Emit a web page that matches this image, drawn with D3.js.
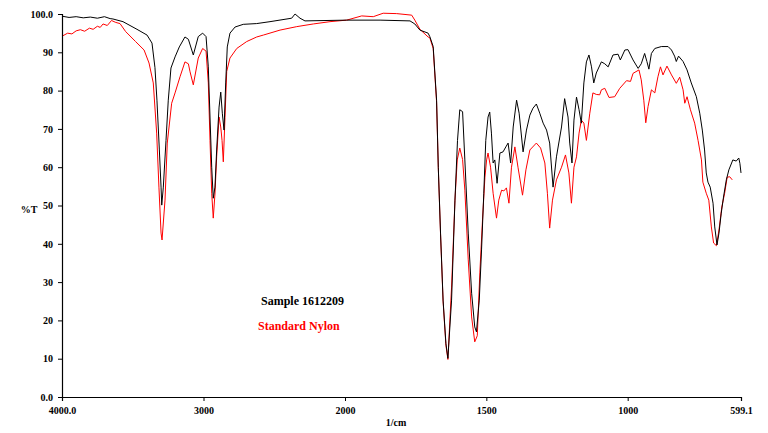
<!DOCTYPE html>
<html><head><meta charset="utf-8">
<script src="https://cdn.jsdelivr.net/npm/d3@7/dist/d3.min.js"></script>
<style>
html,body{margin:0;padding:0;background:#fff;}
</style></head>
<body>
<svg id="c" width="768" height="433"></svg>
<script>
// Wavenumber (1/cm) and %T for each spectrum
const sampleWn = [3995,3950,3900,3850,3800,3750,3700,3660,3640,3569,3470,3399,3364,3343,3329,3312,3300,3295,3284,3265,3249,3230,3201,3171,3131,3107,3072,3037,3006,2982,2966,2954,2942,2931,2919,2907,2890,2878,2867,2855,2843,2832,2813,2777,2719,2624,2530,2377,2353,2318,2283,1994,1876,1770,1753,1735,1706,1700,1688,1676,1670,1662,1653,1643,1636,1623,1611,1602,1594,1584,1576,1564,1552,1541,1535,1525,1517,1509,1502,1494,1488,1482,1476,1470,1462,1452,1441,1431,1423,1414,1405,1393,1384,1370,1358,1346,1335,1323,1311,1299,1287,1276,1264,1252,1234,1223,1211,1205,1197,1190,1181,1172,1164,1155,1146,1137,1128,1120,1111,1093,1081,1069,1052,1034,1026,1010,999,981,963,952,940,932,925,916,904,881,857,845,834,828,820,804,790,775,757,745,736,728,722,716,708,698,692,684,677,669,661,651,642,628,616,607,603,599.1];
const sampleT = [99.4,99.1,99.3,99.0,99.2,98.9,99.3,98.8,98.7,98.0,96.0,94.5,92.4,86.0,77.5,64.5,54.8,50.1,54.8,67.0,77.5,85.9,88.8,91.4,94.0,93.4,89.3,94.1,95.0,94.1,86.2,73.1,60.0,51.9,54.8,64.5,75.7,79.6,74.1,69.7,82.0,91.4,95.0,96.6,97.3,97.5,98.0,98.9,100.0,98.9,98.2,98.4,98.4,98.2,97.4,95.8,95.0,94.1,91.5,77.5,60.0,42.8,25.3,14.0,10.1,25.3,51.4,67.0,75.0,74.5,61.9,42.8,27.1,18.3,17.0,25.3,38.4,53.2,67.0,73.1,74.4,68.9,61.1,61.9,55.8,63.7,64.0,65.3,66.3,61.1,70.5,77.5,74.1,64.0,69.7,73.6,75.4,76.5,74.1,71.5,69.7,66.3,54.8,62.7,70.5,77.9,73.1,66.3,61.1,72.3,78.3,75.0,71.5,82.0,87.5,89.3,86.2,82.0,84.6,87.5,87.0,86.2,89.3,89.5,88.0,90.6,90.7,88.0,85.8,87.0,89.7,87.6,85.6,89.7,91.0,91.5,91.5,90.6,89.0,87.6,89.0,87.6,85.4,82.0,78.4,74.1,69.7,64.5,58.5,56.1,54.8,50.6,44.4,39.7,42.8,48.0,52.2,56.7,59.3,61.9,61.6,62.4,61.0,58.5];

const standardWn = [3995,3960,3930,3900,3870,3840,3806,3780,3750,3730,3710,3680,3650,3620,3590,3550,3480,3420,3385,3355,3331,3315,3300,3293,3272,3256,3225,3201,3166,3131,3107,3095,3072,3037,3006,2982,2966,2954,2942,2931,2919,2907,2890,2878,2869,2860,2848,2836,2813,2765,2695,2624,2577,2459,2341,2224,2106,1994,1941,1900,1865,1817,1764,1753,1735,1706,1700,1688,1676,1670,1662,1653,1643,1636,1623,1611,1603,1594,1584,1576,1564,1552,1541,1532,1523,1513,1505,1499,1494,1485,1476,1464,1456,1446,1438,1429,1420,1411,1399,1388,1372,1360,1346,1323,1308,1293,1284,1276,1266,1252,1234,1220,1208,1199,1190,1181,1172,1164,1155,1146,1134,1123,1111,1099,1093,1081,1066,1046,1028,1004,990,981,960,952,943,936,928,916,904,893,884,875,861,845,828,816,804,798,790,778,763,751,739,734,722,713,704,696,686,677,667,657,648,639,630];
const standardT = [94.3,95.0,94.8,95.6,95.9,95.5,96.3,96.0,96.8,96.5,97.4,97.0,98.3,97.8,97.5,95.4,92.8,90.6,87.2,82.0,68.9,54.8,42.8,41.0,51.4,66.3,76.7,79.4,83.6,87.5,87.0,84.9,81.5,88.5,91.0,90.3,82.0,67.0,53.2,46.7,53.0,62.7,73.1,70.5,67.0,61.4,73.0,85.0,88.5,91.0,92.8,94.0,94.5,95.8,96.7,97.4,98.0,98.4,99.5,99.3,100.2,100.1,99.7,98.4,96.0,94.0,93.8,91.0,77.0,60.0,42.5,25.0,13.5,9.8,28.7,51.4,61.9,65.0,62.0,54.0,35.8,20.9,14.4,16.0,32.4,47.0,57.4,61.9,63.7,60.0,53.2,46.7,51.4,54.0,53.8,54.6,50.6,60.0,65.3,60.0,52.7,59.3,64.5,66.3,65.0,61.1,53.2,44.1,51.4,56.7,60.0,63.2,58.5,50.6,60.0,62.7,68.9,72.3,71.5,67.0,74.1,79.4,79.0,78.9,80.2,80.6,78.2,78.4,80.6,82.6,82.4,84.5,85.4,82.8,77.5,71.6,75.8,80.2,79.4,83.6,86.2,84.1,86.4,84.1,81.9,83.5,80.2,76.7,78.4,75.0,71.5,67.0,61.9,56.1,53.2,51.4,44.4,40.2,39.5,43.6,49.6,53.2,57.4,57.5,56.7];

const yTicks = [0,10,20,30,40,50,60,70,80,90,100];
const yTickLabels = ["0.0","10","20","30","40","50","60","70","80","90","100.0"];
const xTicks = [4000,3000,2000,1500,1000,599.1];
const xTickLabels = ["4000.0","3000","2000","1500","1000","599.1"];
const seriesNames = ["Sample 1612209","Standard Nylon"];
const seriesColors = ["#000000","#ff0000"];

const FONT = "'Liberation Serif','Times New Roman',serif";
const svg = d3.select("#c");
const x = d3.scaleLinear().domain([4000,2000,599.1]).range([62,345,741]);
const y = d3.scaleLinear().domain([0,100]).range([397,14]);

const line = d3.line().x(d=>x(d[0])).y(d=>y(d[1]));
const sData = sampleWn.map((w,i)=>[w,sampleT[i]]);
const rData = standardWn.map((w,i)=>[w,standardT[i]]);

svg.append("path").datum(rData).attr("d",line).attr("fill","none")
  .attr("stroke",seriesColors[1]).attr("stroke-width",1);
svg.append("path").datum(sData).attr("d",line).attr("fill","none")
  .attr("stroke",seriesColors[0]).attr("stroke-width",1);

// Y axis
const yAxis = d3.axisLeft(y).tickValues(yTicks).tickFormat((d,i)=>yTickLabels[i]).tickSize(4).tickPadding(5);
const ya = svg.append("g").attr("transform","translate(62,0)").call(yAxis)
  .attr("font-family",FONT).attr("font-weight","bold").attr("font-size",10);
ya.select(".domain").attr("stroke","#000").attr("stroke-width",1.2);
ya.selectAll("text").attr("fill","#000");

// X axis
const xAxis = d3.axisBottom(x).tickValues(xTicks).tickFormat((d,i)=>xTickLabels[i]).tickSize(4).tickPadding(6);
const xa = svg.append("g").attr("transform","translate(0,397)").call(xAxis)
  .attr("font-family",FONT).attr("font-weight","bold").attr("font-size",10);
xa.select(".domain").attr("stroke","#000").attr("stroke-width",1.2);
xa.selectAll("text").attr("fill","#000");

function label(xp,yp,size,color,txt,anchor){
  svg.append("text").attr("x",xp).attr("y",yp).attr("text-anchor",anchor||"start")
    .attr("font-family",FONT).attr("font-weight","bold").attr("font-size",size)
    .attr("fill",color).text(txt);
}
label(29,213,10,"#000","%T","middle");
label(396,426,10,"#000","1/cm","middle");
label(261,305,12,seriesColors[0],seriesNames[0]);
label(258,330,12,seriesColors[1],seriesNames[1]);
</script>
</body></html>
